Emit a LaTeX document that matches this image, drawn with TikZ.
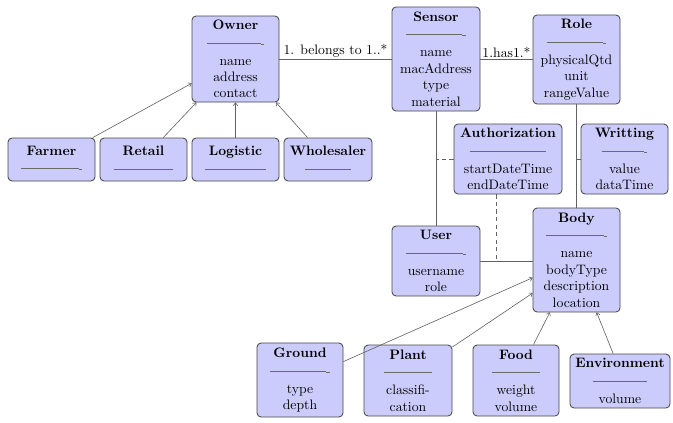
\documentclass[tikz,border=0pt]{standalone}
\usetikzlibrary{arrows.meta,calc}
\definecolor{boxfill}{RGB}{204,204,252}
\definecolor{edgec}{RGB}{70,70,70}
\newcommand{\clsline}[1]{\textcolor{edgec!80}{\rule[3pt]{#1pt}{0.35pt}\rule[2pt]{2.5pt}{0.7pt}}}
\newcommand{\clsrule}[1]{\textcolor{edgec!80}{\rule[3pt]{#1pt}{0.35pt}}}
\tikzset{
  cls/.style 2 args={draw=edgec, fill=boxfill, rounded corners=3pt, align=center,
    minimum width=#1*0.73pt, minimum height=#2*0.73pt, inner sep=1pt, line width=0.6pt},
  conn/.style={draw=edgec!85, line width=0.45pt},
  inh/.style={conn, -{To[length=2.5pt,width=3.5pt]}},
  dconn/.style={conn, dash pattern=on 3pt off 2.5pt},
  lbl/.style={inner sep=1pt}
}
\begin{document}
\begin{tikzpicture}[x=0.73pt,y=-0.73pt]
\useasboundingbox (0,0) rectangle (673,422);
% classes
\node[cls={87}{86}] (owner) at (235.5,59) {\textbf{Owner}\\[1pt]\clsline{39}\\[1pt]name\\address\\contact};
\node[cls={88}{104}] (sensor) at (436,59) {\textbf{Sensor}\\[1pt]\clsline{41}\\[1pt]name\\macAddress\\type\\material};
\node[cls={87}{89}] (role) at (576.5,59.5) {\textbf{Role}\\[1pt]\clsline{41}\\[1pt]physicalQtd\\unit\\rangeValue};
\node[cls={108}{70}] (auth) at (508,159) {\textbf{Authorization}\\[1pt]\clsrule{56}\\[1pt]startDateTime\\endDateTime};
\node[cls={87}{70}] (writ) at (624.5,159) {\textbf{Writting}\\[1pt]\clsline{31}\\[1pt]value\\dataTime};
\node[cls={87}{104}] (body) at (576.5,260) {\textbf{Body}\\[1pt]\clsline{42}\\[1pt]name\\bodyType\\description\\location};
\node[cls={88}{70}] (user) at (436,261) {\textbf{User}\\[1pt]\clsline{42}\\[1pt]username\\role};
\node[cls={87}{43}] (farmer) at (51.5,159.5) {\textbf{Farmer}\\[1pt]\clsline{42}};
\node[cls={87}{43}] (retail) at (143.5,159.5) {\textbf{Retail}\\[1pt]\clsline{41}};
\node[cls={87}{43}] (logistic) at (235.5,159.5) {\textbf{Logistic}\\[1pt]\clsline{42}};
\node[cls={88}{43}] (wholesaler) at (328,159.5) {\textbf{Wholesaler}\\[1pt]\clsline{31}};
\node[cls={86}{74}] (ground) at (300,380) {\textbf{Ground}\\[1pt]\clsline{41}\\[1pt]type\\depth};
\node[cls={88}{71}] (plant) at (408,380.5) {\textbf{Plant}\\[1pt]\clsrule{35}\\[1pt]classifi-\\cation};
\node[cls={86}{71}] (food) at (516,380.5) {\textbf{Food}\\[1pt]\clsrule{35}\\[1pt]weight\\volume};
\node[cls={100}{54}] (env) at (620,381) {\textbf{Environment}\\[1pt]\clsrule{40}\\[1pt]volume};
% associations
\draw[conn] (owner.east) -- (sensor.west)
  node[lbl, midway, above] (lb1) {1. belongs to 1..*};
\draw[conn] (sensor.east) -- (sensor.east -| role.west)
  node[lbl, midway, above] (lb2) {1.has1.*};
\draw[conn] (sensor.south) -- (user.north);
\draw[dconn] (auth.west) -- (auth.west -| sensor.south);
\draw[conn] (role.south) -- (body.north);
\draw[conn] (writ.west) -- (writ.west -| role.south);
\draw[conn] (user.east) -- (user.east -| body.west);
\coordinate (ad) at ($(auth.south)+(-12,0)$);
\draw[dconn] (ad) -- (ad |- user.east);
% inheritance
\draw[inh] (farmer.28) -- (owner.209);
\draw[inh] (retail.48) -- (owner.228);
\draw[inh] (logistic.north) -- (owner.south);
\draw[inh] (wholesaler.133) -- (owner.313);
\draw[inh] (ground.23) -- (body.202.5);
\draw[inh] (plant.37) -- (body.217);
\draw[inh] (food.64) -- (body.243);
\draw[inh] (env.104.5) -- (body.291.5);
\end{tikzpicture}
\end{document}
